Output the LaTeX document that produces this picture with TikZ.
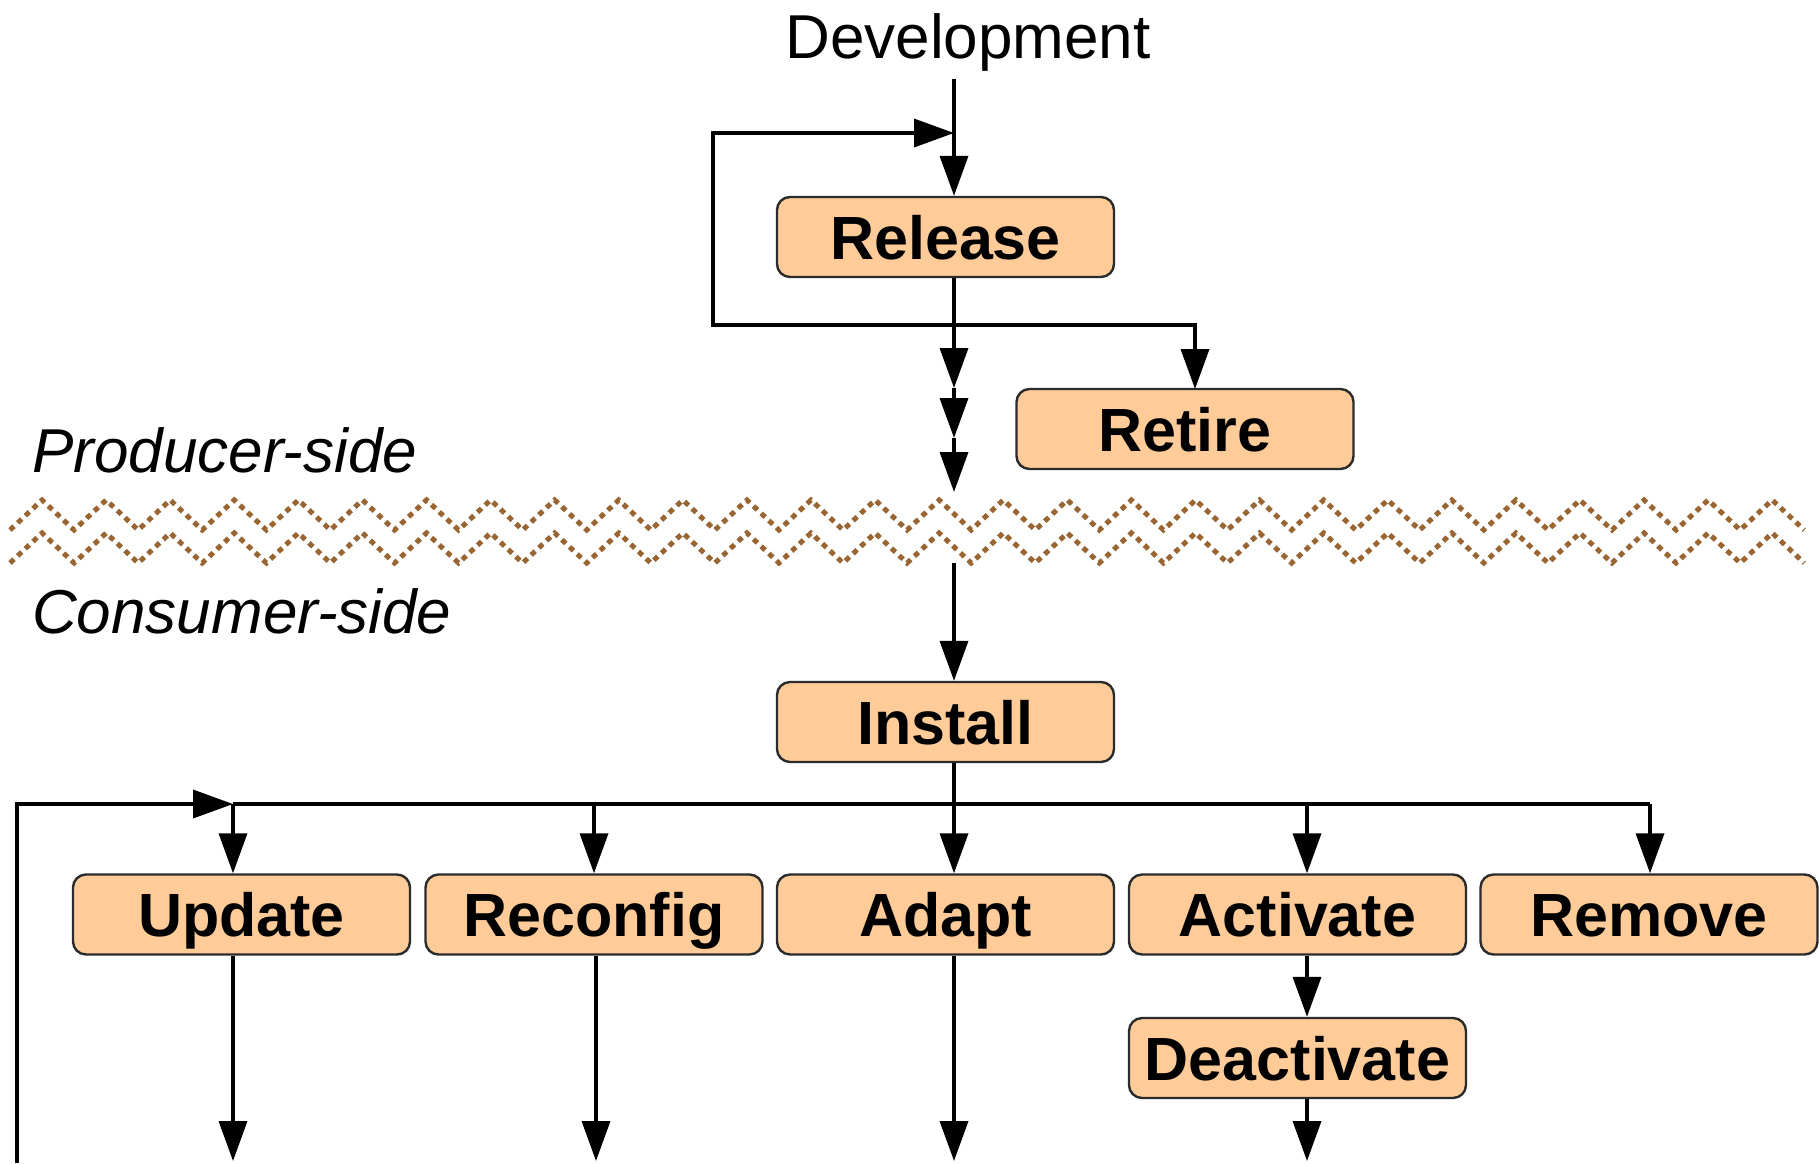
\documentclass[tikz,border=0pt]{standalone}
\usepackage{fontspec}
\setmainfont{Liberation Sans}
\usetikzlibrary{arrows.meta}
\definecolor{boxfill}{HTML}{FFCC99}
\definecolor{boxline}{HTML}{2B2B2B}
\definecolor{zigcol}{HTML}{996633}
\begin{document}
\begin{tikzpicture}[x=1pt, y=-1pt,
  stage/.style={draw=boxline, line width=2.4pt, fill=boxfill, rounded corners=13pt,
    minimum width=337pt, minimum height=80pt, inner sep=0pt,
    text height=44pt, text depth=0pt, font=\fontsize{61}{70}\selectfont\bfseries},
  flow/.style={line width=3.6pt, -{Triangle[length=40pt,width=28pt]}},
  link/.style={line width=3.6pt},
  zigline/.style={draw=zigcol, line width=5pt, dash pattern=on 5.5pt off 5pt},
  caption/.style={font=\fontsize{62}{70}\selectfont, inner sep=0pt},
  side/.style={font=\fontsize{62}{70}\selectfont\itshape, inner sep=0pt, anchor=base west}]
\useasboundingbox (0,0) rectangle (1819,1163);

% labels
\node[caption, anchor=base] (dev) at (968,58) {Development};
\node[side] (prod) at (32,472) {Producer-side};
\node[side] (cons) at (32,633) {Consumer-side};

% stages
\node[stage] (rel)   at (945.5,237)  {Release};
\node[stage] (ret)   at (1185,429)   {Retire};
\node[stage] (inst)  at (945.5,722)  {Install};
\node[stage] (upd)   at (241.5,914.5) {Update};
\node[stage] (rec)   at (594,914.5)  {Reconfig};
\node[stage] (adp)   at (945.5,914.5) {Adapt};
\node[stage] (act)   at (1297.5,914.5) {Activate};
\node[stage] (rem)   at (1649,914.5) {Remove};
\node[stage] (deact) at (1297.5,1058) {Deactivate};

% producer side
\coordinate (dtop) at (954,79);
\coordinate (t1) at (954,133);
\coordinate (j1) at (954,325);
\coordinate (loopL) at (713,325);
\coordinate (rettop) at (1195,389);
\coordinate (p1) at (954,388);
\coordinate (p2) at (954,438);
\coordinate (p3) at (954,492);

\draw[flow] (dtop) -- (dtop |- rel.north);
\draw[flow] (j1) -- (loopL) |- (t1);
\draw[flow] (j1) -| (rettop);
\draw[flow] (j1 |- rel.south) -- (p1);
\draw[flow] (p1) -- (p2);
\draw[flow] (p2) -- (p3);

% boundary between the two sides
\draw[zigline] (10,530) \foreach \i in {1,...,28} { -- ++(32.04,-30) -- ++(32.04,30) };
\draw[zigline] (10,563) \foreach \i in {1,...,28} { -- ++(32.04,-30) -- ++(32.04,30) };

% consumer side
\coordinate (ctop) at (954,563);
\coordinate (lb) at (17,1163);
\coordinate (h1) at (233,804);
\coordinate (h2) at (594,804);
\coordinate (h3) at (954,804);
\coordinate (h4) at (1307,804);
\coordinate (h5) at (1650,804);
\coordinate (b1) at (233,1161);
\coordinate (b2) at (596,1161);
\coordinate (b3) at (954,1161);
\coordinate (b4) at (1307,1161);

\draw[flow] (ctop) -- (ctop |- inst.north);
\draw[link] (h3 |- inst.south) -- (h3);
\draw[flow] (lb) |- (h1);
\draw[link] (h1) -- (h5);
\draw[flow] (h1) -- (h1 |- upd.north);
\draw[flow] (h2) -- (h2 |- rec.north);
\draw[flow] (h3) -- (h3 |- adp.north);
\draw[flow] (h4) -- (h4 |- act.north);
\draw[flow] (h5) -- (h5 |- rem.north);
\draw[flow] (h4 |- act.south) -- (h4 |- deact.north);

\draw[flow] (b1 |- upd.south) -- (b1);
\draw[flow] (b2 |- rec.south) -- (b2);
\draw[flow] (b3 |- adp.south) -- (b3);
\draw[flow] (b4 |- deact.south) -- (b4);
\end{tikzpicture}
\end{document}
